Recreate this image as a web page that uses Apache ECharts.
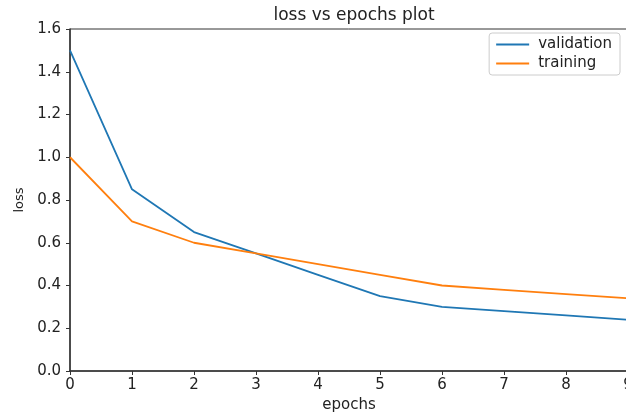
<!DOCTYPE html>
<html>
<head>
<meta charset="utf-8">
<script src="https://cdn.jsdelivr.net/npm/echarts@6/dist/echarts.min.js"></script>
<style>
  html, body { margin: 0; padding: 0; background: #fff; }
  #chart { width: 626px; height: 414px; }
</style>
</head>
<body>
<div id="chart"></div>
<script>
// epochs along x
const epochs = ["0", "1", "2", "3", "4", "5", "6", "7", "8", "9"];
// loss values
const validation = [1.5, 0.85, 0.65, 0.55, 0.45, 0.35, 0.30, 0.28, 0.26, 0.24];
const training = [1.0, 0.70, 0.60, 0.55, 0.50, 0.45, 0.40, 0.38, 0.36, 0.34];

const font = "DejaVu Sans";
const axisColor = "#333";

const mychart = echarts.init(document.getElementById("chart"));
mychart.setOption({
  animation: false,
  textStyle: { fontFamily: font },
  title: {
    text: "loss vs epochs plot",
    left: 349,
    textAlign: "center",
    top: 2,
    textStyle: { fontFamily: font, fontSize: 17, fontWeight: "normal", color: "#222" },
  },
  legend: {
    orient: "vertical",
    right: 6,
    top: 33,
    padding: [4, 8, 4, 6],
    itemGap: 4,
    itemWidth: 33,
    itemHeight: 14,
    borderColor: "#ccc",
    borderWidth: 1,
    borderRadius: 3,
    backgroundColor: "#fff",
    itemStyle: { opacity: 0 },
    data: ["validation", "training"],
    textStyle: { fontFamily: font, fontSize: 15, color: "#222", padding: [0, 0, 0, 4] },
  },
  grid: {
    left: 70,
    top: 29,
    width: 558,
    height: 342,
    outerBoundsMode: "none",
    show: true,
    borderColor: axisColor,
    borderWidth: 1,
  },
  xAxis: {
    type: "category",
    data: epochs,
    boundaryGap: false,
    name: "epochs",
    nameLocation: "middle",
    nameGap: 27,
    nameTextStyle: { fontFamily: font, fontSize: 15, color: "#222" },
    axisLine: { lineStyle: { color: axisColor, width: 1.5 } },
    axisTick: { alignWithLabel: true, length: 4, lineStyle: { color: axisColor } },
    axisLabel: { fontFamily: font, fontSize: 15, color: "#222", margin: 7 },
    splitLine: { show: false },
  },
  yAxis: {
    type: "value",
    min: 0,
    max: 1.6,
    interval: 0.2,
    name: "loss",
    nameLocation: "middle",
    nameGap: 42,
    nameTextStyle: { fontFamily: font, fontSize: 13, color: "#222" },
    axisLine: { show: true, lineStyle: { color: axisColor, width: 1.5 } },
    axisTick: { show: true, length: 4, lineStyle: { color: axisColor } },
    axisLabel: {
      fontFamily: font,
      fontSize: 15,
      color: "#222",
      margin: 9,
      formatter: (v) => v.toFixed(1),
    },
    splitLine: { show: false },
  },
  series: [
    {
      name: "validation",
      type: "line",
      data: validation,
      symbol: "none",
      color: "#1f77b4",
      lineStyle: { width: 1.8, color: "#1f77b4" },
    },
    {
      name: "training",
      type: "line",
      data: training,
      symbol: "none",
      color: "#ff7f0e",
      lineStyle: { width: 1.8, color: "#ff7f0e" },
    },
  ],
});
</script>
</body>
</html>
